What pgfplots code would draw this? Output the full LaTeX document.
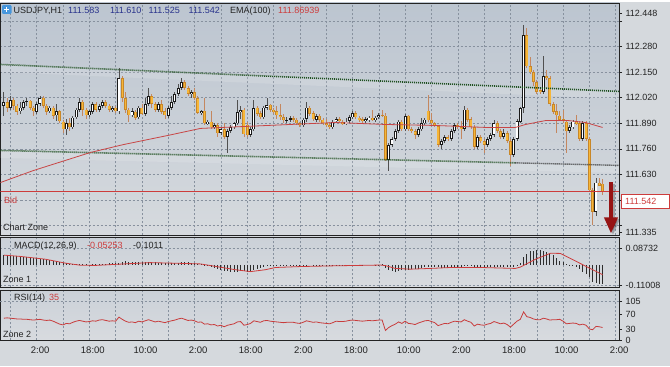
\documentclass[border=0pt]{standalone}
\usepackage{fontspec}
\setmainfont{Liberation Sans}
\usepackage{pgfplots}
\pgfplotsset{compat=1.18}
\usepackage{pgfplotstable}
\usetikzlibrary{arrows.meta}

\definecolor{outerbg}{RGB}{213,217,221}
\definecolor{paneltop}{RGB}{188,197,208}
\definecolor{panelbot}{RGB}{214,218,222}
\definecolor{subtop}{RGB}{203,209,216}
\definecolor{subbot}{RGB}{216,219,223}
\definecolor{gridc}{RGB}{135,145,158}
\definecolor{framec}{RGB}{35,35,35}
\definecolor{bearedge}{RGB}{200,135,40}
\definecolor{bearbody}{RGB}{246,182,56}
\definecolor{bearwick}{RGB}{196,135,95}
\definecolor{bullline}{RGB}{25,25,25}
\definecolor{bullwick}{RGB}{80,80,80}
\definecolor{emared}{RGB}{200,70,70}
\definecolor{bidred}{RGB}{205,60,60}
\definecolor{chgreen}{RGB}{30,80,30}
\definecolor{chdark}{RGB}{50,50,50}
\definecolor{macdbar}{RGB}{45,45,45}
\definecolor{sigred}{RGB}{205,60,60}
\definecolor{rsired}{RGB}{200,60,60}
\definecolor{ohlcblue}{RGB}{40,50,140}
\definecolor{textdark}{RGB}{35,35,35}
\definecolor{arrowred}{RGB}{150,20,20}
\definecolor{iconblue}{RGB}{70,150,220}

\pgfplotstableread{
i o h l c m r
0 111.980 112.050 111.930 112.000 0.050 60
1 112.000 112.020 111.950 111.970 0.050 61
2 111.970 112.030 111.960 112.010 0.048 60
3 112.010 112.020 111.960 111.980 0.047 59
4 111.980 111.990 111.930 111.950 0.046 58
5 111.950 112.000 111.940 111.970 0.045 58
6 111.970 112.010 111.960 112.000 0.044 57
7 112.000 112.020 111.980 112.005 0.043 57
8 112.005 112.010 111.960 111.970 0.040 56
9 111.970 111.980 111.930 111.950 0.038 55
10 111.950 112.000 111.940 111.990 0.035 56
11 111.990 112.030 111.980 112.020 0.033 57
12 112.020 112.030 111.970 111.980 0.030 55
13 111.980 111.990 111.930 111.950 0.027 54
14 111.950 111.980 111.940 111.970 0.025 55
15 111.970 111.980 111.910 111.930 0.022 52
16 111.930 111.990 111.900 111.950 0.018 48
17 111.950 111.960 111.890 111.900 0.015 44
18 111.900 111.910 111.840 111.860 0.012 42
19 111.860 111.910 111.830 111.890 0.008 46
20 111.890 111.920 111.850 111.870 0.005 45
21 111.870 111.930 111.860 111.920 0.003 49
22 111.920 111.970 111.910 111.960 0.002 52
23 111.960 112.020 111.950 112.000 0.002 54
24 112.000 112.010 111.930 111.960 0.003 52
25 111.960 111.970 111.910 111.930 0.002 50
26 111.930 111.960 111.920 111.950 0.001 51
27 111.950 112.000 111.940 111.990 0.003 53
28 111.990 112.000 111.950 111.960 0.004 52
29 111.960 111.990 111.950 111.980 0.005 55
30 111.980 112.010 111.970 112.000 0.006 56
31 112.000 112.010 111.970 111.980 0.007 54
32 111.980 111.990 111.950 111.960 0.008 52
33 111.960 111.980 111.950 111.970 0.008 53
34 111.970 111.980 111.940 111.950 0.009 52
35 111.950 112.174 111.940 112.120 0.012 63
36 112.120 112.130 112.000 112.020 0.016 57
37 112.020 112.050 111.940 111.960 0.018 52
38 111.960 111.970 111.900 111.930 0.017 49
39 111.930 111.970 111.920 111.950 0.016 50
40 111.950 111.960 111.910 111.920 0.015 48
41 111.920 111.980 111.910 111.970 0.014 52
42 111.970 111.990 111.930 111.940 0.013 50
43 111.940 112.020 111.930 111.990 0.013 53
44 111.990 112.070 111.980 112.030 0.014 56
45 112.030 112.040 111.970 111.990 0.015 53
46 111.990 112.000 111.950 111.960 0.014 50
47 111.960 112.000 111.950 111.990 0.012 52
48 111.990 112.010 111.940 111.950 0.011 50
49 111.950 111.970 111.910 111.930 0.009 48
50 111.930 111.980 111.920 111.970 0.008 51
51 111.970 112.030 111.960 112.000 0.008 53
52 112.000 112.050 111.990 112.040 0.009 55
53 112.040 112.090 112.030 112.070 0.011 58
54 112.070 112.123 112.060 112.100 0.013 60
55 112.100 112.110 112.060 112.070 0.014 57
56 112.070 112.080 112.030 112.040 0.013 54
57 112.040 112.060 112.020 112.050 0.012 55
58 112.050 112.070 112.010 112.020 0.010 53
59 112.020 112.030 111.940 111.945 0.006 49
60 111.945 111.960 111.930 111.955 0.003 50
61 111.955 112.020 111.880 111.890 -0.002 44
62 111.890 111.910 111.880 111.900 -0.008 45
63 111.900 111.950 111.860 111.870 -0.014 42
64 111.870 111.890 111.860 111.880 -0.019 43
65 111.880 111.890 111.820 111.840 -0.024 39
66 111.840 111.870 111.830 111.860 -0.028 41
67 111.860 111.890 111.810 111.820 -0.032 37
68 111.820 111.860 111.742 111.850 -0.035 41
69 111.850 111.880 111.840 111.870 -0.036 43
70 111.870 111.900 111.860 111.890 -0.037 45
71 111.890 112.010 111.880 111.950 -0.036 50
72 111.950 111.980 111.910 111.960 -0.034 51
73 111.960 111.970 111.820 111.835 -0.035 41
74 111.885 111.900 111.820 111.830 -0.036 43
75 111.830 111.870 111.820 111.860 -0.033 46
76 111.860 112.010 111.850 111.970 -0.028 53
77 111.970 111.980 111.930 111.940 -0.022 51
78 111.940 111.950 111.910 111.920 -0.017 49
79 111.920 111.980 111.910 111.970 -0.012 53
80 111.970 112.020 111.960 111.985 -0.008 54
81 111.985 111.990 111.950 111.960 -0.005 52
82 111.960 111.970 111.940 111.950 -0.003 51
83 111.950 111.980 111.910 111.930 -0.002 50
84 111.930 111.990 111.910 111.920 -0.002 49
85 111.920 111.940 111.890 111.905 -0.003 48
86 111.905 111.920 111.890 111.910 -0.003 49
87 111.910 111.930 111.900 111.915 -0.003 49
88 111.915 111.930 111.900 111.910 -0.004 49
89 111.910 111.920 111.880 111.890 -0.004 47
90 111.890 111.900 111.870 111.880 -0.004 46
91 111.880 111.920 111.870 111.910 -0.003 49
92 111.910 112.000 111.900 111.970 -0.001 53
93 111.970 111.980 111.930 111.940 0.000 51
94 111.940 111.950 111.900 111.910 -0.001 49
95 111.910 111.940 111.900 111.930 -0.002 50
96 111.930 111.940 111.900 111.910 -0.003 48
97 111.910 111.920 111.880 111.890 -0.004 47
98 111.890 111.910 111.870 111.880 -0.005 46
99 111.880 111.900 111.860 111.870 -0.005 45
100 111.870 111.910 111.860 111.900 -0.004 48
101 111.900 111.920 111.890 111.910 -0.004 52
102 111.910 111.920 111.890 111.900 -0.004 51
103 111.900 111.910 111.880 111.890 -0.004 51
104 111.890 111.920 111.880 111.900 -0.003 52
105 111.900 111.930 111.890 111.920 -0.002 54
106 111.920 111.950 111.910 111.940 -0.001 55
107 111.940 111.950 111.910 111.920 -0.001 54
108 111.920 111.930 111.900 111.910 -0.001 53
109 111.910 111.920 111.890 111.900 -0.001 52
110 111.900 111.920 111.890 111.910 0.000 53
111 111.910 111.930 111.900 111.920 0.000 54
112 111.920 111.960 111.900 111.910 0.000 53
113 111.910 111.930 111.900 111.920 0.001 54
114 111.920 111.940 111.910 111.930 0.001 55
115 111.935 111.960 111.920 111.930 0.002 55
116 111.930 111.940 111.700 111.705 -0.015 27
117 111.705 111.790 111.650 111.780 -0.028 35
118 111.780 111.820 111.770 111.810 -0.034 40
119 111.810 111.860 111.800 111.850 -0.036 44
120 111.850 111.910 111.840 111.900 -0.034 50
121 111.900 111.910 111.850 111.860 -0.030 46
122 111.860 111.940 111.850 111.930 -0.027 52
123 111.930 111.935 111.850 111.860 -0.025 46
124 111.860 111.870 111.840 111.850 -0.023 45
125 111.850 111.860 111.810 111.830 -0.022 43
126 111.830 111.870 111.820 111.860 -0.020 47
127 111.860 111.920 111.850 111.890 -0.017 50
128 111.890 111.920 111.880 111.910 -0.014 53
129 111.955 112.036 111.900 111.905 -0.012 54
130 111.905 111.940 111.880 111.890 -0.011 51
131 111.890 111.900 111.870 111.875 -0.011 48
132 111.875 111.880 111.770 111.780 -0.014 40
133 111.780 111.810 111.760 111.800 -0.016 43
134 111.800 111.830 111.790 111.820 -0.016 46
135 111.820 111.830 111.800 111.810 -0.015 45
136 111.810 111.860 111.800 111.850 -0.013 49
137 111.850 111.890 111.840 111.880 -0.011 52
138 111.880 111.890 111.860 111.870 -0.009 51
139 111.870 111.900 111.810 111.860 -0.009 50
140 111.860 111.980 111.850 111.960 -0.006 56
141 111.960 111.970 111.900 111.910 -0.005 52
142 111.910 111.920 111.860 111.870 -0.006 49
143 111.870 111.880 111.760 111.770 -0.009 39
144 111.770 111.830 111.760 111.820 -0.011 44
145 111.820 111.830 111.790 111.800 -0.012 42
146 111.800 111.810 111.740 111.780 -0.013 41
147 111.780 111.820 111.770 111.810 -0.013 44
148 111.810 111.840 111.800 111.830 -0.012 46
149 111.830 111.910 111.820 111.890 -0.010 51
150 111.890 111.900 111.840 111.850 -0.009 48
151 111.850 111.860 111.810 111.820 -0.009 45
152 111.820 111.860 111.810 111.840 -0.009 47
153 111.840 111.850 111.790 111.800 -0.010 43
154 111.800 111.810 111.676 111.730 -0.014 36
155 111.730 111.820 111.720 111.810 -0.012 44
156 111.810 111.910 111.800 111.900 -0.004 52
157 111.900 111.975 111.890 111.970 0.012 57
158 111.970 112.392 111.940 112.340 0.040 77
159 112.340 112.377 112.170 112.180 0.060 64
160 112.180 112.230 112.140 112.150 0.072 62
161 112.150 112.160 112.080 112.100 0.076 58
162 112.100 112.110 112.040 112.050 0.077 56
163 112.060 112.070 112.040 112.050 0.077 56
164 112.050 112.235 112.040 112.130 0.076 60
165 112.130 112.160 112.110 112.120 0.070 58
166 112.120 112.130 111.980 111.990 0.060 55
167 111.990 112.000 111.940 111.950 0.050 56
168 111.950 111.990 111.840 111.930 0.035 56
169 111.930 111.950 111.900 111.910 0.022 57
170 111.910 111.960 111.890 111.900 0.013 52
171 111.900 111.910 111.740 111.850 0.004 45
172 111.850 111.880 111.840 111.870 0.001 46
173 111.870 111.910 111.860 111.900 -0.002 47
174 111.900 111.930 111.880 111.890 -0.012 46
175 111.890 111.900 111.800 111.810 -0.023 42
176 111.810 111.900 111.800 111.890 -0.040 44
177 111.890 111.900 111.800 111.810 -0.050 41
178 111.810 111.820 111.540 111.550 -0.065 31
179 111.550 111.560 111.376 111.440 -0.090 29
180 111.440 111.615 111.420 111.590 -0.095 38
181 111.590 111.615 111.570 111.575 -0.100 37
182 111.583 111.610 111.525 111.542 -0.1011 35
}\candles

\pgfplotstableread{
x y
-1 111.589
9 111.650
26.4 111.742
36.4 111.782
49.8 111.828
59.8 111.864
80.2 111.879
100.8 111.894
116 111.884
131.2 111.879
146.4 111.869
155.5 111.869
158.6 111.884
164.7 111.904
171.6 111.904
176.8 111.894
182 111.869
}\ema

\pgfplotstableread{
x y
0 0.052
5 0.045
12.7 0.030
18.8 0.009
23.3 -0.002
27.9 -0.003
35.5 0.004
44.6 0.012
53.7 0.008
59.8 0.005
64.3 -0.008
70.4 -0.026
75 -0.036
79.5 -0.026
82.6 -0.014
90.2 -0.009
100.8 -0.005
114.5 -0.001
116 -0.004
119 -0.019
123.6 -0.023
129.7 -0.019
135.8 -0.014
144.9 -0.014
155.5 -0.019
157 -0.012
161.6 0.030
166.2 0.062
169.2 0.061
182 -0.0525
}\signal

\pgfplotsset{
  chartpanel/.style={
    scale only axis, width=618.5pt,
    xmin=-1, xmax=187,
    axis line style={draw=framec, line width=0.9pt},
    xtick={2,10,...,186},
    xmajorgrids=true,
    grid style={draw=gridc, line width=0.5pt, dash pattern=on 2pt off 2pt},
    xtick style={draw=none},
    ytick pos=right, yticklabel pos=right,
    tick align=outside,
    major tick length=3pt,
    ytick style={draw=framec, line width=0.6pt},
    yticklabel style={font=\fontsize{9}{10}\selectfont, text=textdark},
    xticklabel style={font=\fontsize{9.5}{10}\selectfont, text=textdark},
  },
  bullcond/.style={restrict expr to domain={\thisrow{c}-\thisrow{o}}{0:1}},
  bearcond/.style={restrict expr to domain={\thisrow{c}-\thisrow{o}}{-1:-0.0000001}},
}

\newcommand\tf{\fontsize{9}{10}\selectfont}

\begin{document}
\begin{tikzpicture}[x=1pt,y=1pt]
\fill[outerbg] (0,0) rectangle (670,364);

% ---------------- main chart ----------------
\begin{axis}[chartpanel,
  at={(0.5pt,363.5pt)}, anchor=north west, height=232.5pt,
  axis background/.style={top color=paneltop, bottom color=panelbot},
  ymin=111.3198, ymax=112.5014,
  ytick={111.37,111.50,111.63,111.76,111.89,112.02,112.15,112.28,112.41},
  yticklabels={{},{},111.630,111.760,111.890,112.020,112.150,112.280,{}},
  ymajorgrids=true,
  extra y ticks={111.335,112.448},
  extra y tick labels={111.335,112.448},
  extra y tick style={grid=none},
  xticklabels={},
]
% channel highlight bands
\addplot[white, opacity=0.14, line width=7pt, yshift=-4pt, forget plot] coordinates {(-1,112.189) (187,112.052)};
\addplot[white, opacity=0.14, line width=7pt, yshift=-4pt, forget plot] coordinates {(-1,111.752) (187,111.676)};
% wicks
\addplot[mark=none, draw=none, forget plot, bullcond,
  error bars/.cd, y dir=both, y explicit, error mark=none,
  error bar style={draw=bullwick, line width=0.8pt, solid}]
  table[x=i, y expr={(\thisrow{h}+\thisrow{l})/2}, y error expr={(\thisrow{h}-\thisrow{l})/2}]{\candles};
\addplot[mark=none, draw=none, forget plot, bearcond,
  error bars/.cd, y dir=both, y explicit, error mark=none,
  error bar style={draw=bearwick, line width=0.8pt, solid}]
  table[x=i, y expr={(\thisrow{h}+\thisrow{l})/2}, y error expr={(\thisrow{h}-\thisrow{l})/2}]{\candles};
% bodies
\addplot[mark=none, draw=none, forget plot, bearcond,
  error bars/.cd, y dir=both, y explicit, error mark=none,
  error bar style={draw=bearedge, line width=3pt, solid}]
  table[x=i, y expr={(\thisrow{o}+\thisrow{c})/2}, y error expr={max(abs(\thisrow{c}-\thisrow{o})/2,0.0018)}]{\candles};
\addplot[mark=none, draw=none, forget plot, bearcond,
  error bars/.cd, y dir=both, y explicit, error mark=none,
  error bar style={draw=bearbody, line width=1.4pt, solid}]
  table[x=i, y expr={(\thisrow{o}+\thisrow{c})/2}, y error expr={max(abs(\thisrow{c}-\thisrow{o})/2-0.0035,0)}]{\candles};
\addplot[mark=none, draw=none, forget plot, bullcond,
  error bars/.cd, y dir=both, y explicit, error mark=none,
  error bar style={draw=bullline, line width=3pt, solid}]
  table[x=i, y expr={(\thisrow{o}+\thisrow{c})/2}, y error expr={max(abs(\thisrow{c}-\thisrow{o})/2,0.0018)}]{\candles};
\addplot[mark=none, draw=none, forget plot, bullcond,
  error bars/.cd, y dir=both, y explicit, error mark=none,
  error bar style={draw=white, line width=1.2pt, solid}]
  table[x=i, y expr={(\thisrow{o}+\thisrow{c})/2}, y error expr={max(abs(\thisrow{c}-\thisrow{o})/2-0.0045,0)}]{\candles};
% channel lines
\addplot[chgreen, line width=1.6pt, dash pattern=on 1pt off 1pt, mark=none] coordinates {(-1,112.189) (187,112.052)};
\addplot[chgreen, line width=1.6pt, dash pattern=on 1pt off 1pt, mark=none] coordinates {(-1,111.752) (155.5,111.689)};
\addplot[chdark, line width=1.4pt, dash pattern=on 1pt off 1pt, mark=none] coordinates {(155.5,111.689) (187,111.676)};
% EMA
\addplot[emared, line width=0.8pt, mark=none] table[x=x,y=y]{\ema};
% bid
\addplot[bidred, line width=0.8pt, mark=none] coordinates {(-1,111.542) (187,111.542)};
\end{axis}

% ---------------- MACD ----------------
\begin{axis}[chartpanel,
  at={(0.5pt,129pt)}, anchor=north west, height=50pt,
  axis background/.style={top color=subtop, bottom color=subbot},
  ymin=-0.1208, ymax=0.1460,
  ytick={-0.11008,0.08732}, yticklabels={-0.11008,0.08732},
  ymajorgrids=true, xticklabels={},
]
\addplot[ycomb, draw=macdbar, line width=0.9pt, mark=none] table[x=i,y=m]{\candles};
\addplot[sigred, line width=0.8pt, mark=none] table[x=x,y=y]{\signal};
\end{axis}

% ---------------- RSI ----------------
\begin{axis}[chartpanel,
  at={(0.5pt,76pt)}, anchor=north west, height=50pt,
  axis background/.style={top color=subtop, bottom color=subbot},
  ymin=0, ymax=134.6,
  ytick={0,30,70}, yticklabels={0,30,70},
  extra y ticks={105}, extra y tick labels={105},
  extra y tick style={grid=major},
  xticklabels={{},2:00,{},18:00,{},10:00,{},2:00,{},18:00,{},2:00,{},18:00,{},10:00,{},2:00,{},18:00,{},10:00,{},2:00},
  xticklabel style={xshift=3.5pt},
]
\addplot[rsired, line width=0.8pt, mark=none] table[x=i,y=r]{\candles};
\end{axis}

% ---------------- texts ----------------
\fill[iconblue, rounded corners=1.2pt] (2,352.5) rectangle (11.5,361.5);
\draw[white, line width=1pt] (6.75,354.5) -- (6.75,359.5) (4.25,357) -- (9.25,357);
\node[anchor=base west, inner sep=0, font=\tf, text=textdark] at (13.5,353) {USDJPY,H1};
\node[anchor=base west, inner sep=0, font=\tf, text=ohlcblue] at (68,353) {111.583};
\node[anchor=base west, inner sep=0, font=\tf, text=ohlcblue] at (110,353) {111.610};
\node[anchor=base west, inner sep=0, font=\tf, text=ohlcblue] at (148.5,353) {111.525};
\node[anchor=base west, inner sep=0, font=\tf, text=ohlcblue] at (188.5,353) {111.542};
\node[anchor=base west, inner sep=0, font=\tf, text=textdark] at (230,353) {EMA(100)};
\node[anchor=base west, inner sep=0, font=\tf, text=bidred] at (278,353) {111.86939};

\node[anchor=base west, inner sep=0, font=\tf, text=bidred] at (4,162.5) {Bid};
\node[anchor=base west, inner sep=0, font=\tf, text=textdark] at (3,135.5) {Chart Zone};

\node[anchor=base west, inner sep=0, font=\tf, text=textdark] at (14,118) {MACD(12,26,9)};
\node[anchor=base west, inner sep=0, font=\tf, text=bidred] at (87,118) {-0.05253};
\node[anchor=base west, inner sep=0, font=\tf, text=textdark] at (133,118) {-0.1011};
\node[anchor=base west, inner sep=0, font=\tf, text=textdark] at (3,83.5) {Zone 1};

\node[anchor=base west, inner sep=0, font=\tf, text=textdark] at (14,66) {RSI(14)};
\node[anchor=base west, inner sep=0, font=\tf, text=bidred] at (49,66) {35};
\node[anchor=base west, inner sep=0, font=\tf, text=textdark] at (3,29) {Zone 2};

% price box
\fill[white] (621.5,158.5) rectangle (669.5,172.5);
\draw[bidred, line width=0.8pt] (621.5,158.5) rectangle (669.5,172.5);
\node[anchor=base west, inner sep=0, font=\tf, text=bidred] at (625,162) {111.542};

% arrow
\draw[black, opacity=0.25, line width=3.5pt, -{Triangle[width=13pt,length=16pt]}] (613,182) -- (613,131.5);
\draw[arrowred, line width=3.5pt, -{Triangle[width=13pt,length=16pt]}] (611,184) -- (611,133);
\end{tikzpicture}
\end{document}
